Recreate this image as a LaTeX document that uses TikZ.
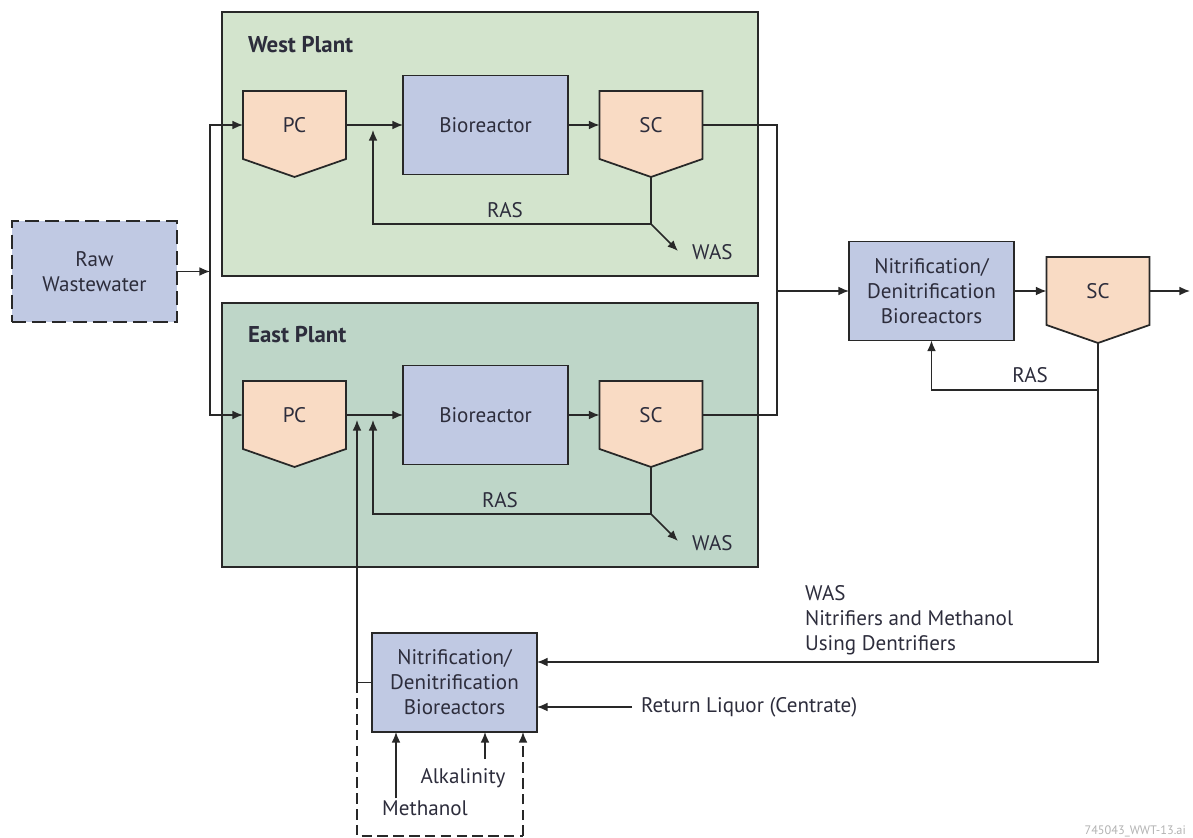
\documentclass[tikz,border=0pt]{standalone}
\usepackage{fontspec}
\setmainfont{PT Sans}
\usetikzlibrary{arrows.meta,positioning,backgrounds,calc}

\definecolor{westgreen}{RGB}{211,228,205}
\definecolor{eastgreen}{RGB}{190,214,200}
\definecolor{bioblue}{RGB}{192,201,227}
\definecolor{clarpeach}{RGB}{249,219,196}
\definecolor{inkgray}{RGB}{40,40,40}
\definecolor{txt}{RGB}{45,45,60}

% clarifier outline drawn round a (borderless) node
\newcommand{\clarshape}[1]{%
  \draw[clarfill] (#1.north west) -- (#1.north east) -- (#1.south east)
    -- ([yshift=-0.36cm]#1.south) coordinate (#1tip) -- (#1.south west) -- cycle;}

\begin{document}
\begin{tikzpicture}[
  x=0.02cm, y=-0.02cm,
  font=\fontsize{12}{14.2}\selectfont, text=txt,
  plant/.style={rectangle, draw=inkgray, line width=1pt,
                minimum width=10.72cm, minimum height=5.28cm},
  bio/.style={rectangle, draw=inkgray, fill=bioblue, line width=1pt, align=center,
              minimum width=3.3cm, minimum height=1.98cm, outer sep=0pt},
  raw/.style={bio, dash pattern=on 8pt off 3.5pt, minimum height=2.02cm},
  clar/.style={rectangle, minimum width=2.06cm, minimum height=1.36cm, outer sep=0pt},
  clarfill/.style={draw=inkgray, fill=clarpeach, line width=1pt, line join=miter},
  plantname/.style={font=\fontsize{13}{15}\selectfont\bfseries, anchor=west},
  arr/.style={-{Latex[length=6pt,width=5pt]}, line width=0.85pt, draw=inkgray},
  flow/.style={line width=0.85pt, draw=inkgray},
  dashline/.style={line width=0.85pt, draw=inkgray, dash pattern=on 6pt off 3pt},
  lbl/.style={inner sep=1pt}
]
\useasboundingbox (0,0) rectangle (1193,838);

% plants
\begin{scope}[on background layer]
\node[plant, fill=westgreen] (westbox) at (490,144) {};
\node[plant, fill=eastgreen] (eastbox) at (490,435) {};
\end{scope}
\node[plantname] (westname) at (242,45) {West Plant};
\node[plantname] (eastname) at (242,335) {East Plant};

\node[raw] (raw) at (94.5,271.5) {Raw\\Wastewater};

\node[clar] (pcw)  at (294.5,125) {PC};
\node[bio]  (biow) at (485.5,125) {Bioreactor};
\node[clar] (scw)  at (651,125)   {SC};
\node[clar] (pce)  at (294.5,415) {PC};
\node[bio]  (bioe) at (485.5,415) {Bioreactor};
\node[clar] (sce)  at (651,415)   {SC};

\node[bio]  (nitr) at (931.5,291) {Nitrification/\\Denitrification\\Bioreactors};
\node[clar] (scr)  at (1098,291)  {SC};
\node[bio]  (nitb) at (454.5,682.5) {Nitrification/\\Denitrification\\Bioreactors};

\begin{scope}[on background layer]
\clarshape{pcw} \clarshape{scw} \clarshape{pce} \clarshape{sce} \clarshape{scr}
\end{scope}

% influent split
\coordinate (split) at (210,271.5);
\draw[arr] (raw.east) -- (split);
\draw[arr] (split) |- (pcw.west);
\draw[arr] (split) |- (pce.west);

\draw[arr] (pcw.east) -- (biow.west);
\draw[arr] (biow.east) -- (scw.west);
\draw[arr] (pce.east) -- (bioe.west);
\draw[arr] (bioe.east) -- (sce.west);

% west RAS / WAS
\coordinate (wasw) at (651,224);
\coordinate (rasw) at (373,130);
\coordinate (waswend) at (678,251);
\draw[flow] (scwtip) -- (wasw);
\draw[arr] (wasw) -| (rasw);
\draw[arr] (wasw) -- (waswend);
\node[lbl] (raswlbl) at (505,210) {RAS};
\node[lbl, anchor=west] (waswlbl) at (690,252) {WAS};

% east RAS / WAS
\coordinate (wase) at (651,514);
\coordinate (rase) at (373,420);
\coordinate (nite) at (357,420);
\coordinate (waseend) at (678,541);
\draw[flow] (scetip) -- (wase);
\draw[arr] (wase) -| (rase);
\draw[arr] (wase) -- (waseend);
\node[lbl] (raselbl) at (500,500) {RAS};
\node[lbl, anchor=west] (waselbl) at (690,543) {WAS};

% secondary effluents merge
\coordinate (mrg) at (777,291);
\draw[flow] (scw.east) -| (mrg);
\draw[flow] (sce.east) -| (mrg);
\draw[arr] (mrg) -- (nitr.west);

% nitrification stage
\coordinate (effl) at (1190,291);
\coordinate (rasr) at (1098,390);
\draw[arr] (nitr.east) -- (scr.west);
\draw[arr] (scr.east) -- (effl);
\draw[flow] (scrtip) -- (rasr);
\draw[arr] (rasr) -| (nitr.south);
\node[lbl] (rasrlbl) at (1030,375) {RAS};
\draw[arr] (rasr) |- ([yshift=0.41cm]nitb.east);
\node[lbl, anchor=north west, align=left] (waslbl) at (803,583)
  {WAS\\Nitrifiers and Methanol\\Using Dentrifiers};

% sidestream reactor
\node[lbl, anchor=west, inner sep=5pt] (retliq) at (632,707) {Return Liquor (Centrate)};
\draw[arr] (retliq.west) -- (retliq.west -| nitb.east);
\draw[arr] (nitb.west) -| (nite);

\coordinate (dbl) at (357,836);
\coordinate (dbr) at (523,836);
\draw[dashline] (nitb.west -| dbl) -- (dbl) -- (dbr);
\draw[arr, dashline] (dbr) -- (dbr |- nitb.south);

\node[lbl] (meth) at (425,808) {Methanol};
\node[lbl] (alk)  at (463,778) {Alkalinity};
\draw[arr] ([xshift=-0.58cm]meth.north) -- ([xshift=-0.58cm]meth.north |- nitb.south);
\draw[arr] ([xshift=0.44cm,yshift=4pt]alk.north) -- ([xshift=0.44cm]alk.north |- nitb.south);

\node[anchor=east, font=\fontsize{7}{8}\selectfont, text=gray!60] (fileid) at (1192,831)
  {745043\_WWT-13.ai};
\end{tikzpicture}
\end{document}
